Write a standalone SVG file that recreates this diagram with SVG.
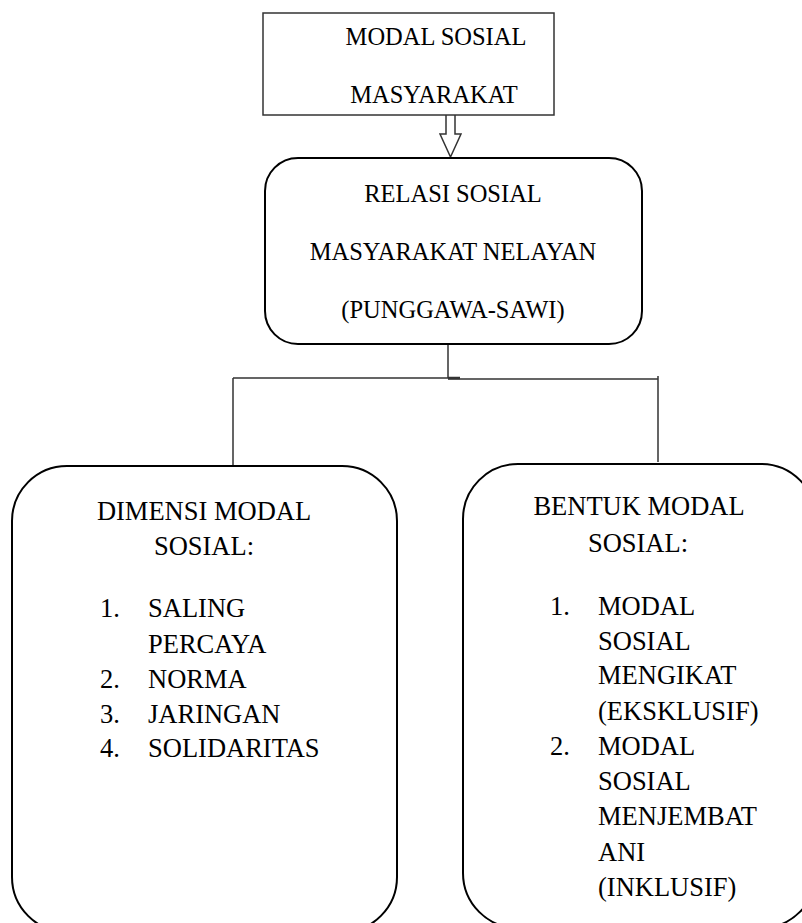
<svg xmlns="http://www.w3.org/2000/svg" width="802" height="923" viewBox="0 0 802 923">
<style>
text{font-family:"Liberation Serif","Times New Roman",serif;fill:#000}
.t1{font-size:24.5px}
.t2{font-size:26.5px}
.box{fill:#fff;stroke:#000;stroke-width:2}
.rect{fill:#fff;stroke:#333;stroke-width:1.5}
.ln{fill:none;stroke:#333;stroke-width:1.5}
</style>
<rect width="802" height="923" fill="#fff"/>
<g id="node-modal-sosial">
<rect class="rect" x="263" y="13" width="291" height="102"/>
<text class="t1" x="436" y="45" text-anchor="middle">MODAL SOSIAL</text>
<text class="t1" x="434" y="103" text-anchor="middle">MASYARAKAT</text>
</g>
<g id="connectors">
<path class="ln" d="M446,115 V134 H440 L450.5,157 L461,134 H455 V115" stroke="#000" stroke-width="1.6"/>
<path class="ln" d="M448,344 V378 M233,378 H448 M448,379 H658 M233,378 V466 M658,376 V462"/>
<path d="M448,378 H460" stroke="#333" stroke-width="2.5"/>
</g>
<g id="node-relasi">
<rect class="box" x="265" y="158" width="377" height="186" rx="33" ry="33"/>
<text class="t1" x="453" y="202" text-anchor="middle">RELASI SOSIAL</text>
<text class="t1" x="453" y="260" text-anchor="middle">MASYARAKAT NELAYAN</text>
<text class="t1" x="453" y="318" text-anchor="middle">(PUNGGAWA-SAWI)</text>
</g>
<g id="node-dimensi">
<rect class="box" x="12" y="466" width="385" height="466" rx="55" ry="55"/>
<text class="t2" x="204" y="520" text-anchor="middle">DIMENSI MODAL</text>
<text class="t2" x="204" y="555" text-anchor="middle">SOSIAL:</text>
<text class="t2" x="100" y="617">1.</text>
<text class="t2" x="148" y="617">SALING</text>
<text class="t2" x="148" y="653">PERCAYA</text>
<text class="t2" x="100" y="688">2.</text>
<text class="t2" x="148" y="688">NORMA</text>
<text class="t2" x="100" y="723">3.</text>
<text class="t2" x="148" y="723">JARINGAN</text>
<text class="t2" x="100" y="757">4.</text>
<text class="t2" x="148" y="757">SOLIDARITAS</text>
</g>
<g id="node-bentuk">
<rect class="box" x="463" y="464" width="353" height="464" rx="55" ry="55"/>
<text class="t2" x="639" y="515" text-anchor="middle">BENTUK MODAL</text>
<text class="t2" x="638" y="552" text-anchor="middle">SOSIAL:</text>
<text class="t2" x="550" y="615">1.</text>
<text class="t2" x="598" y="615">MODAL</text>
<text class="t2" x="598" y="650">SOSIAL</text>
<text class="t2" x="598" y="684">MENGIKAT</text>
<text class="t2" x="598" y="720">(EKSKLUSIF)</text>
<text class="t2" x="550" y="755">2.</text>
<text class="t2" x="598" y="755">MODAL</text>
<text class="t2" x="598" y="790">SOSIAL</text>
<text class="t2" x="598" y="825">MENJEMBAT</text>
<text class="t2" x="598" y="861">ANI</text>
<text class="t2" x="598" y="896">(INKLUSIF)</text>
</g>
</svg>
